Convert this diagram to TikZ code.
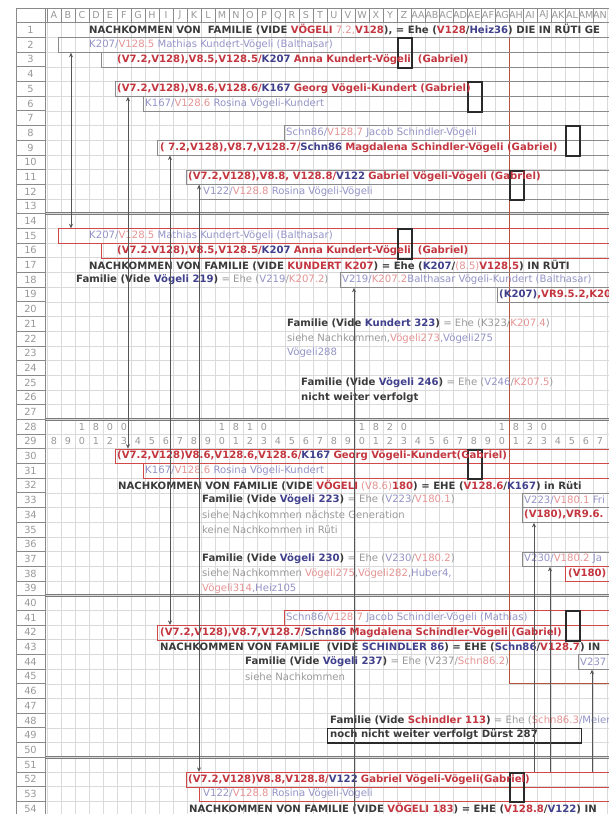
\documentclass[tikz,border=0pt]{standalone}
\usepackage{fontspec}
\setmainfont{DejaVu Sans}
\usetikzlibrary{arrows.meta,positioning,calc}
\definecolor{darktext}{HTML}{3A3A3A}
\definecolor{redtext}{HTML}{C4363F}
\definecolor{bluetext}{HTML}{40408C}
\definecolor{lightred}{HTML}{E69494}
\definecolor{lightblue}{HTML}{9494C8}
\definecolor{graytext}{HTML}{999999}
\definecolor{gridgray}{HTML}{DADADA}
\definecolor{boxgray}{HTML}{8A8A8A}
\definecolor{boxred}{HTML}{D04848}
\definecolor{endblack}{HTML}{2A2A2A}
\definecolor{linegray}{HTML}{555555}
\definecolor{yearline}{HTML}{B5533C}
\definecolor{sepgray}{HTML}{7A7A7A}
% text colours used in the cells
\newcommand{\dk}[1]{{\bfseries\color{darktext}#1}}
\newcommand{\rd}[1]{{\bfseries\color{redtext}#1}}
\newcommand{\bl}[1]{{\bfseries\color{bluetext}#1}}
\newcommand{\lr}[1]{{\color{lightred}#1}}
\newcommand{\lb}[1]{{\color{lightblue}#1}}
\newcommand{\gy}[1]{{\color{graytext}#1}}
% centre of sheet row #1
\pgfmathdeclarefunction{ry}{1}{\pgfmathparse{30+(#1-1)*14.69}}

\begin{document}
\begin{tikzpicture}[x=1pt, y=-1pt,
  >={Stealth[length=4.5pt,width=4pt]},
  every node/.style={inner sep=0pt},
  txt/.style={anchor=west, font=\fontsize{10.1}{11}\selectfont},
  lbl/.style={font=\fontsize{9.6}{10}\selectfont, color=graytext},
  rowbox/.style={draw=boxgray, line width=0.7pt, minimum height=14.69pt, anchor=north west},
  redbox/.style={rowbox, draw=boxred, line width=0.9pt},
  endbox/.style={draw=endblack, line width=2pt, minimum width=14pt, minimum height=29.38pt, anchor=north west},
  link/.style={draw=linegray, line width=0.8pt},
]
\path[use as bounding box] (0,0) rectangle (609,814);
\clip (0,0) rectangle (609,814);
\fill[white] (0,0) rectangle (609,814);

% Sheet grid
\foreach \k in {0,...,40}
  \draw[gridgray, line width=0.4pt] (47+14*\k,8) -- (47+14*\k,814);
\foreach \i in {0,...,54}
  \draw[gridgray, line width=0.4pt] (45,{22.65+\i*14.69}) -- (609,{22.65+\i*14.69});

% Column letters
\draw[boxgray, line width=0.5pt] (16,8) rectangle (609,22.65);
\draw[boxgray, line width=0.5pt] (16,8) rectangle (45,22.65);
\foreach \l [count=\k from 0] in {A,B,C,D,E,F,G,H,I,J,K,L,M,N,O,P,Q,R,S,T,U,V,W,X,Y,Z,AA,AB,AC,AD,AE,AF,AG,AH,AI,AJ,AK,AL,AM,AN}{
  \draw[boxgray, line width=0.4pt] (47+14*\k,8) -- (47+14*\k,22.65);
  \node[lbl] (col\k) at (54+14*\k,15.3) {\l};
}

% Row numbers
\foreach \i in {1,...,54}{
  \draw[boxgray, line width=0.6pt, fill=white] (16,{ry(\i)-7.345}) rectangle (45,{ry(\i)+7.345});
  \node[lbl, font=\fontsize{9.8}{10}\selectfont] (row\i) at (30.5,{ry(\i)}) {\i};
}

% Double separators
\foreach \i in {14,28,40,51}{
  \draw[sepgray, line width=0.6pt] (45,{ry(\i)-8.6}) -- (609,{ry(\i)-8.6});
  \draw[sepgray, line width=0.6pt] (45,{ry(\i)-6.3}) -- (609,{ry(\i)-6.3});
}

% Years
\foreach \k in {0,...,39}{
  \pgfmathtruncatemacro{\d}{mod(8+\k,10)}
  \node[lbl] (yr\k) at (54+14*\k,{ry(29)}) {\d};
}
\foreach \s/\t in {2/0,12/1,22/2,32/3}
  \foreach \d [count=\j from 0] in {1,8,\t,0}
    \node[lbl] (dec\s-\j) at ({54+14*(\s+\j)},{ry(28)}) {\d};

% Year 1830
\draw[yearline, line width=1pt] (509,{ry(2)-7.345}) -- (509,{ry(45)+7.345}) -- (609,{ry(45)+7.345});

% Person boxes
\node[rowbox, minimum width=562] (b2) at (58,{ry(2)-7.345}) {};
\node[rowbox, minimum width=519] (b3) at (101,{ry(3)-7.345}) {};
\node[rowbox, minimum width=505] (b5) at (115,{ry(5)-7.345}) {};
\node[rowbox, minimum width=477] (b6) at (143,{ry(6)-7.345}) {};
\node[rowbox, minimum width=336] (b8) at (284,{ry(8)-7.345}) {};
\node[rowbox, minimum width=463] (b9) at (157,{ry(9)-7.345}) {};
\node[rowbox, minimum width=434] (b11) at (186,{ry(11)-7.345}) {};
\node[rowbox, minimum width=421] (b12) at (199,{ry(12)-7.345}) {};
\node[redbox, minimum width=562] (b15) at (58,{ry(15)-7.345}) {};
\node[redbox, minimum width=519] (b16) at (101,{ry(16)-7.345}) {};
\node[rowbox, minimum width=280] (b18) at (340,{ry(18)-7.345}) {};
\node[rowbox, minimum width=123] (b19) at (497,{ry(19)-7.345}) {};
\node[redbox, minimum width=505] (b30) at (115,{ry(30)-7.345}) {};
\node[redbox, minimum width=477] (b31) at (143,{ry(31)-7.345}) {};
\node[rowbox, minimum width=98] (b33) at (522,{ry(33)-7.345}) {};
\node[rowbox, minimum width=98] (b34) at (522,{ry(34)-7.345}) {};
\node[rowbox, minimum width=98] (b37) at (522,{ry(37)-7.345}) {};
\node[redbox, minimum width=55] (b38) at (565,{ry(38)-7.345}) {};
\node[redbox, minimum width=336] (b41) at (284,{ry(41)-7.345}) {};
\node[redbox, minimum width=463] (b42) at (157,{ry(42)-7.345}) {};
\node[rowbox, minimum width=42] (b44) at (578,{ry(44)-7.345}) {};
\node[rowbox, draw=endblack, line width=1.4pt, minimum width=254] (b49) at (327,{ry(49)-7.345}) {};
\node[redbox, minimum width=434] (b52) at (186,{ry(52)-7.345}) {};
\node[redbox, minimum width=421] (b53) at (199,{ry(53)-7.345}) {};

% Death-year marks
\node[endbox] (e2) at (397,{ry(2)-7.345}) {};
\node[endbox] (e5) at (467,{ry(5)-7.345}) {};
\node[endbox] (e8) at (565,{ry(8)-7.345}) {};
\node[endbox] (e11) at (509,{ry(11)-7.345}) {};
\node[endbox] (e15) at (397,{ry(15)-7.345}) {};
\node[endbox] (e30) at (467,{ry(30)-7.345}) {};
\node[endbox] (e41) at (565,{ry(41)-7.345}) {};
\node[endbox] (e52) at (509,{ry(52)-7.345}) {};

% Texts
\node[txt] (t1) at (89,{ry(1)}) {\dk{NACHKOMMEN VON\ \ FAMILIE (VIDE }\rd{VÖGELI} \lr{7.2,}\rd{V128}\dk{), = Ehe (}\rd{V128}\dk{/}\bl{Heiz36}\dk{) DIE IN RÜTI GE}};
\node[txt] (t2) at (89,{ry(2)}) {\lb{K207/}\lr{V128.5} \lb{Mathias Kundert-Vögeli (Balthasar)}};
\node[txt] (t3) at (117,{ry(3)}) {\rd{(V7.2,V128),V8.5,V128.5/}\bl{K207} \rd{Anna Kundert-Vögeli\ \ (Gabriel)}};
\node[txt] (t5) at (117,{ry(5)}) {\rd{(V7.2,V128),V8.6,V128.6/}\bl{K167} \rd{Georg Vögeli-Kundert (Gabriel)}};
\node[txt] (t6) at (145,{ry(6)}) {\lb{K167/}\lr{V128.6} \lb{Rosina Vögeli-Kundert}};
\node[txt] (t8) at (286,{ry(8)}) {\lb{Schn86/}\lr{V128.7} \lb{Jacob Schindler-Vögeli}};
\node[txt] (t9) at (160,{ry(9)}) {\rd{( 7.2,V128),V8.7,V128.7/}\bl{Schn86} \rd{Magdalena Schindler-Vögeli (Gabriel)}};
\node[txt] (t11) at (188,{ry(11)}) {\rd{(V7.2,V128),V8.8, V128.8/}\bl{V122} \rd{Gabriel Vögeli-Vögeli (Gabriel)}};
\node[txt] (t12) at (203,{ry(12)}) {\lb{V122/}\lr{V128.8} \lb{Rosina Vögeli-Vögeli}};
\node[txt] (t15) at (89,{ry(15)}) {\lb{K207/}\lr{V128.5} \lb{Mathias Kundert-Vögeli (Balthasar)}};
\node[txt] (t16) at (117,{ry(16)}) {\rd{(V7.2.V128),V8.5,V128.5/}\bl{K207} \rd{Anna Kundert-Vögeli\ \ (Gabriel)}};
\node[txt] (t17) at (89,{ry(17)}) {\dk{NACHKOMMEN VON FAMILIE (VIDE }\rd{KUNDERT K207}\dk{) = Ehe (}\bl{K207}\dk{/}\lr{(8.5)}\rd{V128.5}\dk{) IN RÜTI}};
\node[txt] (t18) at (76,{ry(18)}) {\dk{Familie (Vide }\bl{Vögeli 219}\dk{)} \gy{= Ehe (}\lb{V219}\gy{/}\lr{K207.2}\gy{)}};
\node[txt] (t18b) at (342,{ry(18)}) {\lb{V219/}\lr{K207.2}\lb{Balthasar Vögeli-Kundert (Balthasar)}};
\node[txt] (t19) at (499,{ry(19)}) {\bl{(K207)}\rd{,VR9.5.2,K20}};
\node[txt] (t21) at (287,{ry(21)}) {\dk{Familie (Vide }\bl{Kundert 323}\dk{)} \gy{= Ehe (K323/}\lr{K207.4}\gy{)}};
\node[txt] (t22) at (287,{ry(22)}) {\gy{siehe Nachkommen,}\lr{Vögeli273}\lb{,Vögeli275}};
\node[txt] (t23) at (287,{ry(23)}) {\lb{Vögeli288}};
\node[txt] (t25) at (301,{ry(25)}) {\dk{Familie (Vide }\bl{Vögeli 246}\dk{)} \gy{= Ehe (}\lb{V246}\gy{/}\lr{K207.5}\gy{)}};
\node[txt] (t26) at (301,{ry(26)}) {\dk{nicht weiter verfolgt}};
\node[txt] (t30) at (117,{ry(30)}) {\rd{(V7.2,V128)V8.6,V128.6,V128.6/}\bl{K167} \rd{Georg Vögeli-Kundert(Gabriel)}};
\node[txt] (t31) at (145,{ry(31)}) {\lb{K167/}\lr{V128.6} \lb{Rosina Vögeli-Kundert}};
\node[txt] (t32) at (118,{ry(32)}) {\dk{NACHKOMMEN VON FAMILIE (VIDE }\rd{VÖGELI} \lr{(V8.6)}\rd{180}\dk{) = EHE (}\rd{V128.6}\dk{/}\bl{K167}\dk{) in Rüti}};
\node[txt] (t33) at (202,{ry(33)}) {\dk{Familie (Vide }\bl{Vögeli 223}\dk{)} \gy{= Ehe (}\lb{V223}\gy{/}\lr{V180.1}\gy{)}};
\node[txt] (t33b) at (524,{ry(33)}) {\lb{V223/}\lr{V180.1} \lb{Fri}};
\node[txt] (t34) at (202,{ry(34)}) {\gy{siehe Nachkommen nächste Generation}};
\node[txt] (t34b) at (524,{ry(34)}) {\rd{(V180),VR9.6.}};
\node[txt] (t35) at (202,{ry(35)}) {\gy{keine Nachkommen in Rüti}};
\node[txt] (t37) at (202,{ry(37)}) {\dk{Familie (Vide }\bl{Vögeli 230}\dk{)} \gy{= Ehe (}\lb{V230}\gy{/}\lr{V180.2}\gy{)}};
\node[txt] (t37b) at (524,{ry(37)}) {\lb{V230/}\lr{V180.2} \lb{Ja}};
\node[txt] (t38) at (202,{ry(38)}) {\gy{siehe Nachkommen }\lr{Vögeli275}\gy{,}\lr{Vögeli282}\lb{,Huber4,}};
\node[txt] (t38b) at (568,{ry(38)}) {\rd{(V180)}};
\node[txt] (t39) at (202,{ry(39)}) {\lr{Vögeli314}\lb{,Heiz105}};
\node[txt] (t41) at (286,{ry(41)}) {\lb{Schn86/}\lr{V128.7} \lb{Jacob Schindler-Vögeli (Mathias)}};
\node[txt] (t42) at (160,{ry(42)}) {\rd{(V7.2,V128),V8.7,V128.7/}\bl{Schn86} \rd{Magdalena Schindler-Vögeli (Gabriel)}};
\node[txt] (t43) at (160,{ry(43)}) {\dk{NACHKOMMEN VON FAMILIE\ \ (VIDE }\bl{SCHINDLER 86}\dk{) = EHE (}\bl{Schn86}\dk{/}\rd{V128.7}\dk{) IN}};
\node[txt] (t44) at (245,{ry(44)}) {\dk{Familie (Vide }\bl{Vögeli 237}\dk{)} \gy{= Ehe (V237/}\lr{Schn86.2}\gy{)}};
\node[txt] (t44b) at (580,{ry(44)}) {\lb{V237}};
\node[txt] (t45) at (245,{ry(45)}) {\gy{siehe Nachkommen}};
\node[txt] (t48) at (330,{ry(48)}) {\dk{Familie (Vide }\rd{Schindler 113}\dk{)} \gy{= Ehe (}\lr{Schn86.3}\lb{/Meier}};
\node[txt] (t49) at (330,{ry(49)}) {\dk{noch nicht weiter verfolgt Dürst 287}};
\node[txt] (t52) at (188,{ry(52)}) {\rd{(V7.2,V128)V8.8,V128.8/}\bl{V122} \rd{Gabriel Vögeli-Vögeli(Gabriel)}};
\node[txt] (t53) at (203,{ry(53)}) {\lb{V122/}\lr{V128.8} \lb{Rosina Vögeli-Vögeli}};
\node[txt] (t54) at (189,{ry(54)}) {\dk{NACHKOMMEN VON FAMILIE (VIDE }\rd{VÖGELI 183}\dk{) = EHE (}\rd{V128.8}\dk{/}\bl{V122}\dk{) IN}};

% Links between records
\coordinate (bot) at (0,818);
\coordinate (xa) at (71,0);
\coordinate (xb) at (128,0);
\coordinate (xc) at (170,0);
\coordinate (xd) at (199,0);
\coordinate (xe) at (354,0);
\coordinate (xf) at (534,0);
\coordinate (xg) at (550,0);
\coordinate (xh) at (592,0);
\draw[link, <->] (b2.south -| xa) -- (b15.north -| xa);
\draw[link, <->] (b5.south -| xb) -- (b30.north -| xb);
\draw[link, <->] (b9.south -| xc) -- (b42.north -| xc);
\draw[link, <->] (b11.south -| xd) -- (b52.north -| xd);
\draw[link, <-] (b18.south -| xe) -- (xe |- bot);
\draw[link, <-] (b34.south -| xf) -- (b52.north -| xf);
\draw[link, <-] (b37.south -| xg) -- (b52.north -| xg);
\draw[link, <-] (b44.south -| xh) -- (b52.north -| xh);

\end{tikzpicture}
\end{document}
